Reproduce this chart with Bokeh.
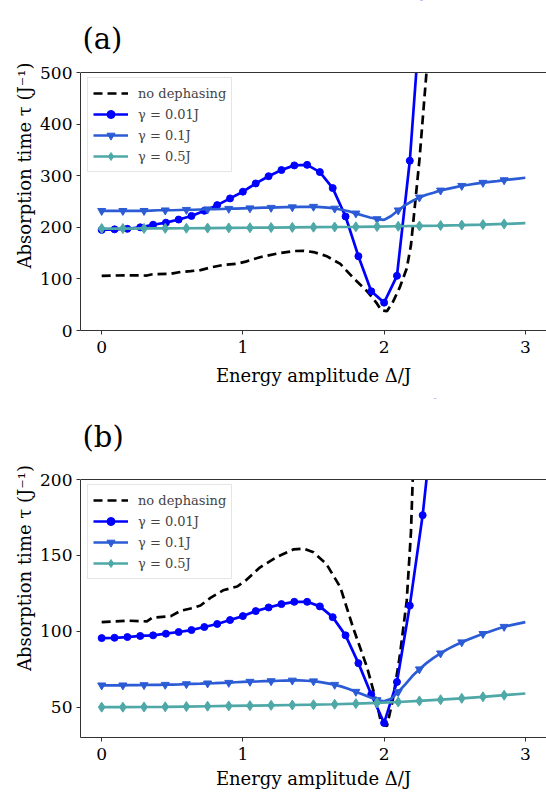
import numpy as np
from bokeh.plotting import figure
from bokeh.models import (Range1d, Legend, LegendItem, Span, FixedTicker, Label,
                          BoxAnnotation)
from bokeh.layouts import column
from bokeh.embed import file_html
from bokeh.resources import INLINE

# ---------------- data ----------------
# no dephasing (same curve in both panels)
x_nodeph = [0.00, 0.18, 0.32, 0.36, 0.49, 0.56, 0.63, 0.70, 0.77, 0.86, 0.96, 1.02,
            1.12, 1.24, 1.36, 1.43, 1.50, 1.59, 1.69, 1.78, 1.88, 1.95, 1.98, 2.02,
            2.06, 2.11, 2.16, 2.19, 2.25, 2.30, 2.35]
tau_nodeph = [106, 107, 106.5, 109, 110, 113.5, 115, 117, 122, 127, 129.5, 133.5,
              142, 149, 154, 154.5, 152, 144.5, 129, 102.5, 76, 52, 39, 37.5,
              54, 83, 120, 165, 330, 500, 700]

# gamma = 0.01 J  (grid 0, 3/33, 6/33, ...)
x_g001 = [0.0, 0.091, 0.182, 0.273, 0.364, 0.455, 0.545, 0.636, 0.727, 0.818, 0.909,
          1.0, 1.091, 1.182, 1.273, 1.364, 1.455, 1.545, 1.636, 1.727, 1.818, 1.909,
          2.0, 2.091, 2.182, 2.273, 2.364]
tau_g001_a = [195, 196, 197, 200, 205, 209, 215, 222, 232, 243, 256,
              269, 285, 299, 311, 320, 321, 307, 276, 221, 144, 76,
              54, 106, 329, 670, 1000]
tau_g001_b = [95.5, 95.7, 96.2, 96.9, 97.3, 98.4, 99.5, 100.8, 102.8, 104.8, 107.4,
              110.0, 113.3, 115.7, 117.9, 119.4, 119.4, 116.4, 109.3, 97.3, 79.0, 58.4,
              39.6, 66.6, 116.9, 176.5, 255.0]

# gamma = 0.1 J  (fine grid, step 0.05)
x_g01 = np.round(np.arange(61) * 0.05, 2).tolist()
tau_g01_a = [232, 232, 232, 232, 232, 232, 232, 232.5, 233, 233,
             233, 233.5, 234, 234, 234.5, 235, 235, 235.5, 236, 236,
             236.5, 237, 237.5, 238, 238, 238.5, 239, 239, 239.5, 239.5,
             240, 239, 238, 236.5, 234, 231, 227, 223, 219, 216,
             214.5, 222, 233, 243, 251, 258, 263, 267, 271.5, 274.5,
             277.5, 280.5, 282.5, 284.5, 286.5, 288, 289.5, 291.5, 293, 294.5,
             296]
tau_g01_b = [64.4, 64.4, 64.4, 64.4, 64.5, 64.5, 64.6, 64.7, 64.7, 64.8,
             64.9, 65.0, 65.2, 65.4, 65.5, 65.7, 65.8, 66.0, 66.1, 66.4,
             66.6, 66.8, 66.9, 67.1, 67.2, 67.4, 67.5, 67.6, 67.6, 67.4,
             67.1, 66.5, 65.7, 64.8, 63.5, 62.0, 60.2, 58.4, 56.5, 54.7,
             53.8, 55.5, 60.0, 65.0, 70.5, 75.0, 79.0, 82.5, 85.5, 88.2,
             90.6, 92.8, 94.8, 96.6, 98.3, 99.9, 101.5, 103.0, 104.0, 105.0,
             106.0]

# gamma = 0.5 J  (grid step 0.15)
x_g05 = np.round(np.arange(21) * 0.15, 2).tolist()
tau_g05_a = [197.5, 197.6, 197.8, 198.0, 198.2, 198.5, 198.8, 199.1, 199.5, 199.8,
             200.2, 200.6, 201.0, 201.5, 202.0, 202.6, 203.4, 204.3, 205.3, 206.5,
             208.0]
tau_g05_b = [50.0, 50.0, 50.1, 50.2, 50.4, 50.6, 50.8, 51.0, 51.2, 51.4,
             51.6, 51.9, 52.3, 52.8, 53.4, 54.1, 54.9, 55.8, 56.8, 57.9,
             59.0]

x_ticks = [0, 1, 2, 3]
y_ticks_a = [0, 100, 200, 300, 400, 500]
y_ticks_b = [50, 100, 150, 200]
y_lim_a = (0, 500)
y_lim_b = (30, 200)

labels = ["no dephasing", "γ = 0.01J", "γ = 0.1J", "γ = 0.5J"]
C_NODEPH = "black"
C_G001 = "#0000ff"
C_G01 = "#2b5bd5"
C_G05 = "#4fa8a8"

FONT = "DejaVu Serif"
LW = 2.7
AXES_H = 258      # pixel height of the axes box


def make_panel(height, head, bottom, ylim, yticks, tau001, tau01, tau05, tag,
               label_standoff):
    frame_h = height - bottom
    # extend the range upward so the panel tag can live inside the canvas
    y_top = ylim[0] + (ylim[1] - ylim[0]) * frame_h / AXES_H
    p = figure(width=546, height=height, x_range=Range1d(-0.15, 3.15),
               y_range=Range1d(ylim[0], y_top), output_backend="svg",
               toolbar_location=None, min_border_left=80, min_border_right=0,
               min_border_top=0, min_border_bottom=bottom)
    p.outline_line_color = None
    p.xgrid.grid_line_color = None
    p.ygrid.grid_line_color = None
    p.background_fill_color = "white"

    for ax in (p.xaxis[0], p.yaxis[0]):
        ax.axis_line_color = "#333333"
        ax.axis_line_width = 1
        ax.major_tick_line_color = "#333333"
        ax.major_tick_out = 4
        ax.major_tick_in = 0
        ax.minor_tick_line_color = None
        ax.major_label_text_font = FONT
        ax.major_label_text_font_size = "17px"
        ax.major_label_text_color = "black"
        ax.axis_label_text_font = FONT
        ax.axis_label_text_font_size = "18px"
        ax.axis_label_text_font_style = "normal"
        ax.axis_label_text_color = "black"
    p.xaxis.ticker = FixedTicker(ticks=x_ticks)
    p.yaxis.ticker = FixedTicker(ticks=yticks)
    p.yaxis.bounds = ylim
    p.xaxis.axis_label = "Energy amplitude Δ/J"
    p.yaxis.axis_label = "Absorption time τ (J⁻¹)"
    p.xaxis.major_label_standoff = 6
    p.xaxis.axis_label_standoff = label_standoff
    p.yaxis.major_label_standoff = 4
    p.yaxis.axis_label_standoff = 2

    r0 = p.line(x_nodeph, tau_nodeph, color=C_NODEPH, line_width=LW, line_dash="9 5")

    # markers only for points inside the visible axes box
    keep = [i for i, v in enumerate(tau001) if v <= ylim[1]]
    r1l = p.line(x_g001, tau001, color=C_G001, line_width=LW)
    r1m = p.scatter([x_g001[i] for i in keep], [tau001[i] for i in keep],
                    marker="circle", size=7, color=C_G001)

    r2l = p.line(x_g01, tau01, color=C_G01, line_width=LW)
    r2m = p.scatter(x_g01[::3][:-1], tau01[::3][:-1], marker="inverted_triangle",
                    size=8, color=C_G01)

    r3l = p.line(x_g05, tau05, color=C_G05, line_width=LW)
    r3m = p.scatter(x_g05[:-1], tau05[:-1], marker="diamond", size=10, color=C_G05)

    # hide everything above the axes box, then draw the top spine
    mask = BoxAnnotation(bottom=ylim[1], top=y_top * 3, left=-1, right=5,
                         fill_color="white", fill_alpha=1.0,
                         line_color=None, level="guide")
    p.add_layout(mask)
    p.add_layout(Span(location=ylim[1], dimension="width", line_color="#333333",
                      line_width=1, level="guide"))

    legend = Legend(items=[
        LegendItem(label=labels[0], renderers=[r0]),
        LegendItem(label=labels[1], renderers=[r1l, r1m]),
        LegendItem(label=labels[2], renderers=[r2l, r2m]),
        LegendItem(label=labels[3], renderers=[r3l, r3m]),
    ], location=(7, AXES_H - 7 - 93))
    legend.margin = 0
    legend.padding = 5
    legend.spacing = 1
    legend.label_height = 20
    legend.glyph_height = 20
    legend.glyph_width = 35
    legend.label_standoff = 10
    legend.label_text_font = FONT
    legend.label_text_font_size = "13px"
    legend.border_line_color = "#cccccc"
    legend.border_line_width = 1
    legend.background_fill_alpha = 0.85
    p.add_layout(legend)

    p.add_layout(Label(x=2, y=AXES_H + head - 38, x_units="screen", y_units="screen",
                       text=tag, text_font=FONT, text_font_size="29px",
                       text_baseline="alphabetic", text_color="black"))
    return p


p1 = make_panel(398, 72, 68, y_lim_a, y_ticks_a, tau_g001_a, tau_g01_a, tau_g05_a,
                "(a)", 9)
p2 = make_panel(394, 81, 55, y_lim_b, y_ticks_b, tau_g001_b, tau_g01_b, tau_g05_b,
                "(b)", 5)

layout = column(p1, p2)
open("out.html", "w").write(file_html(layout, INLINE))
